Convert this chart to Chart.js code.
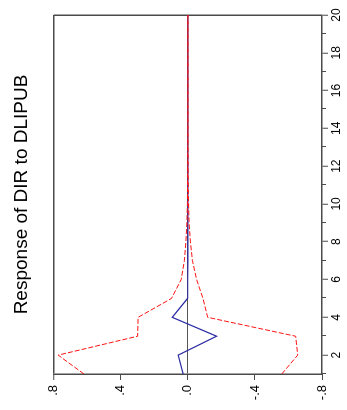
<!DOCTYPE html>
<html><head><meta charset="utf-8">
<script src="https://cdn.jsdelivr.net/npm/chart.js@4/dist/chart.umd.min.js"></script>
<style>
html,body{margin:0;padding:0;background:#fff;overflow:hidden;width:347px;height:410px;}
#wrap{position:absolute;left:0;top:0;width:410px;height:347px;transform-origin:0 0;transform:translate(0px,410px) rotate(-90deg);}
canvas{display:block;}
</style></head><body>
<div id="wrap"><canvas id="c" width="410" height="347"></canvas></div>
<script>
// ---- data ----
const periods = [1,2,3,4,5,6,7,8,9,10,11,12,13,14,15,16,17,18,19,20];
const response = [0.028, 0.058, -0.171, 0.093, 0.002, 0.001, 0.0, 0.0, 0.0, 0.0, 0.0, 0.0, 0.0, 0.0, 0.0, 0.0, 0.0, 0.0, 0.0, 0.0];
const upperBand = [0.62, 0.774, 0.30, 0.297, 0.098, 0.040, 0.021, 0.012, 0.006, 0.003, 0.002, 0.001, 0.001, 0.0, 0.0, 0.0, 0.0, 0.0, 0.0, 0.0];
const lowerBand = [-0.56, -0.655, -0.643, -0.118, -0.090, -0.052, -0.027, -0.015, -0.007, -0.004, -0.002, -0.001, -0.001, 0.0, 0.0, 0.0, 0.0, 0.0, 0.0, 0.0];
const valueTicks = [-0.8, -0.4, 0, 0.4, 0.8];
const valueTickLabels = ['-.8', '-.4', '.0', '.4', '.8'];
const periodLabels = ['', '2', '', '4', '', '6', '', '8', '', '10', '', '12', '', '14', '', '16', '', '18', '', '20'];
const titleText = 'Response of DIR to DLIPUB';

// ---- styles ----
const FONT = '"Liberation Sans", Arial, Helvetica, sans-serif';
const FRAME = '#4a4a4a';
const ZERO = '#555555';
const RED = 'rgb(255,20,20)';
const BLUE = 'rgb(45,45,165)';
const NONE = 'rgba(0,0,0,0)';

const toXY = arr => periods.map((p, i) => ({x: p, y: arr[i]}));

const minorTicks = {
  id: 'minorTicks',
  afterDraw(chart) {
    const s = chart.scales.x, ctx = chart.ctx;
    ctx.save();
    ctx.strokeStyle = FRAME;
    ctx.lineWidth = 1;
    periods.forEach((p, i) => {
      if (periodLabels[i] === '') {
        const px = Math.round(s.getPixelForValue(p)) + 0.5;
        ctx.beginPath();
        ctx.moveTo(px, s.top);
        ctx.lineTo(px, s.top + 4);
        ctx.stroke();
      }
    });
    ctx.restore();
  }
};

new Chart(document.getElementById('c'), {
  type: 'line',
  data: {
    datasets: [
      {label: 'upper', data: toXY(upperBand), borderColor: RED, borderWidth: 1, borderDash: [5, 2], pointRadius: 0, fill: false, tension: 0},
      {label: 'lower', data: toXY(lowerBand), borderColor: RED, borderWidth: 1, borderDash: [5, 2], pointRadius: 0, fill: false, tension: 0},
      {label: 'response', data: toXY(response), borderColor: BLUE, borderWidth: 1.2, pointRadius: 0, fill: false, tension: 0}
    ]
  },
  options: {
    responsive: false,
    animation: false,
    devicePixelRatio: 1,
    layout: {padding: {top: 0, right: 15, bottom: 0, left: 0}},
    plugins: {
      legend: {display: false},
      tooltip: {enabled: false},
      title: {
        display: true,
        text: titleText,
        fullSize: false,
        color: '#000',
        font: {family: FONT, size: 19, weight: 'normal', lineHeight: 1.2},
        padding: {top: 10, bottom: 21}
      }
    },
    scales: {
      x: {
        type: 'linear',
        position: 'bottom',
        min: 1, max: 20,
        afterBuildTicks: s => { s.ticks = periods.map(v => ({value: v})); },
        afterFit: s => { s.height = 25; },
        ticks: {
          autoSkip: false, maxRotation: 0, minRotation: 0, padding: 1,
          color: '#000',
          font: {family: FONT, size: 12},
          callback: (v, i) => periodLabels[periods.indexOf(v)]
        },
        grid: {
          drawOnChartArea: true,
          color: c => (c.tick && c.tick.value === 20) ? FRAME : NONE,
          lineWidth: 1.5,
          tickColor: c => (c.tick && periodLabels[periods.indexOf(c.tick.value)] !== '') ? FRAME : NONE,
          tickLength: 6,
          tickWidth: 1
        },
        border: {display: true, color: FRAME, width: 1.5}
      },
      y: {
        type: 'linear',
        position: 'left',
        min: -0.8, max: 0.8,
        afterBuildTicks: s => { s.ticks = valueTicks.map(v => ({value: v})); },
        afterFit: s => { s.width = 36; },
        ticks: {
          padding: 5,
          color: '#000',
          font: {family: FONT, size: 13},
          callback: (v) => valueTickLabels[valueTicks.indexOf(v)]
        },
        grid: {
          drawOnChartArea: true,
          color: c => !c.tick ? NONE : (c.tick.value === 0 ? ZERO : (c.tick.value === 0.8 ? FRAME : NONE)),
          lineWidth: c => (c.tick && c.tick.value === 0.8) ? 1.5 : 1,
          tickColor: FRAME,
          tickLength: 6,
          tickWidth: 1
        },
        border: {display: true, color: FRAME, width: 1.5}
      }
    }
  },
  plugins: [minorTicks]
});
</script>
</body></html>
